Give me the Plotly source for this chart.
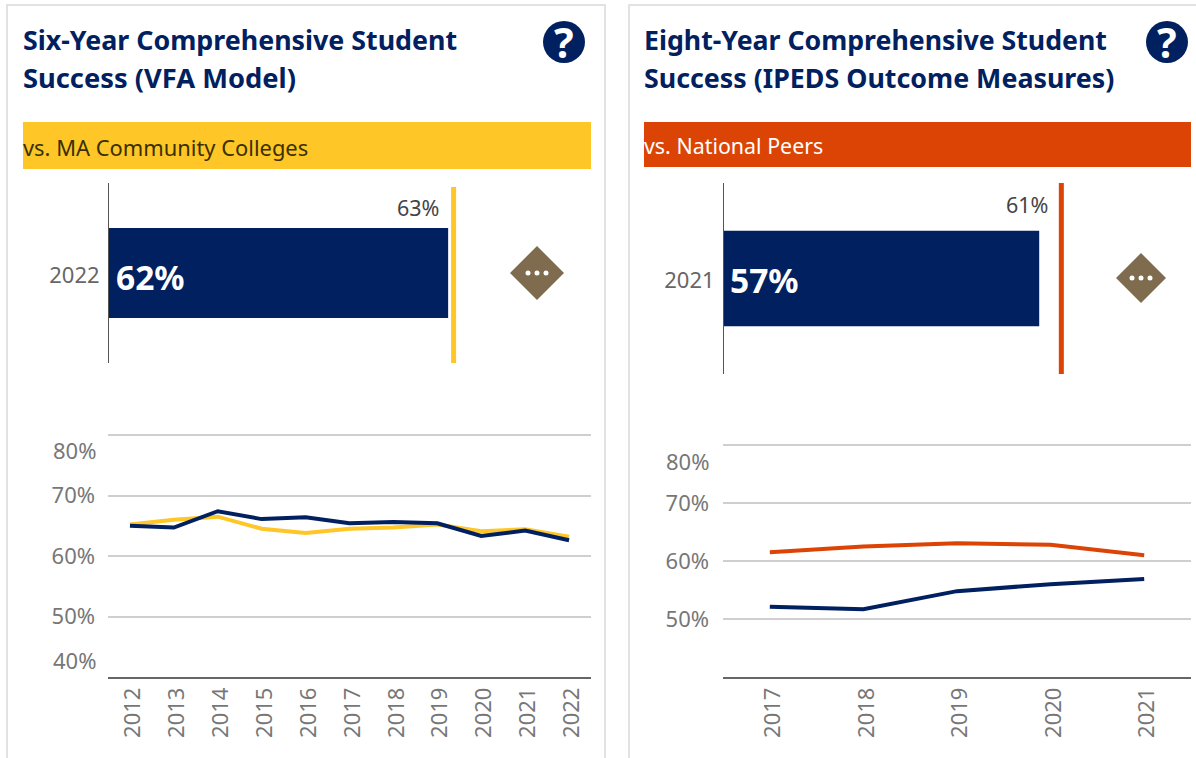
import plotly.graph_objects as go

W, H = 1196, 758
NAVY, GOLD, ORANGE, BROWN = "#002060", "#FFC627", "#DC4405", "#7F6C4E"
FONT = "Noto Sans"

years_a = ["2012","2013","2014","2015","2016","2017","2018","2019","2020","2021","2022"]
college_a = [65.0,64.7,67.4,66.1,66.4,65.4,65.6,65.4,63.3,64.2,62.6]
peers_a = [65.2,66.0,66.5,64.5,63.8,64.5,64.7,65.2,64.1,64.4,63.2]
years_b = ["2017","2018","2019","2020","2021"]
college_b = [52.1,51.7,54.8,56.0,56.9]
peers_b = [61.5,62.5,63.05,62.8,61.0]
bullet_a = {"year": "2022", "value": 62, "target": 63}
bullet_b = {"year": "2021", "value": 57, "target": 61}
grid_vals = [40, 50, 60, 70, 80]
grid_text = ["", "50%", "60%", "70%", ""]

def dx(a, b): return [a / W, b / W]
def dy(top, bot): return [1 - bot / H, 1 - top / H]
def px(x): return x / W
def py(y): return 1 - y / H

fig = go.Figure()

def panel(n, bullet, years, college, peers, color, xspan, scale, bar_y, line_y, target_top, y_standoff, cat_standoff):
    xa, ya = f"x{n}", f"y{n}"
    xb, yb = f"x{n+1}", f"y{n+1}"
    fig.add_trace(go.Bar(
        x=[bullet["value"]], y=[0], orientation="h", width=1.0, marker=dict(color=NAVY, line_width=0),
        xaxis=xa, yaxis=ya, showlegend=False, hoverinfo="skip"))
    fig.add_trace(go.Scatter(
        x=[bullet["target"]] * 2, y=[-1, target_top], mode="lines", line=dict(color=color, width=5),
        xaxis=xa, yaxis=ya, showlegend=False, hoverinfo="skip"))
    fig.add_trace(go.Scatter(x=years, y=peers, mode="lines", line=dict(color=color, width=4),
                             xaxis=xb, yaxis=yb, showlegend=False, hoverinfo="skip"))
    fig.add_trace(go.Scatter(x=years, y=college, mode="lines", line=dict(color=NAVY, width=4),
                             xaxis=xb, yaxis=yb, showlegend=False, hoverinfo="skip"))
    x0, x1 = xspan
    bw = 400
    top, bot = line_y
    fig.update_layout(**{
        f"xaxis{n}": dict(domain=dx(x0 + 1, x0 + 1 + bw), range=[0, bw / scale], visible=False, anchor=ya),
        f"yaxis{n}": dict(domain=dy(*bar_y), range=[-1, 1], anchor=xa, showgrid=False, zeroline=False,
                          showline=True, linecolor="#555555", linewidth=1, ticks="",
                          tickvals=[0], ticktext=[bullet["year"]], ticklabelstandoff=cat_standoff,
                          ticklabelshift=2, tickfont=dict(family=FONT, size=22, color="#666666")),
        f"xaxis{n+1}": dict(domain=dx(x0, x1), type="category", categoryorder="array", categoryarray=years,
                            range=[-0.5, len(years) - 0.5], anchor=yb, showgrid=False, tickangle=-90, ticks="",
                            showline=True, linecolor="#666666", linewidth=1.5, ticklabelstandoff=0,
                            ticklabelshift=3, tickfont=dict(family=FONT, size=22, color="#777777")),
        f"yaxis{n+1}": dict(domain=dy(top - 1.2, bot), range=[40, 80 + 1.2 * 40 / (bot - top)], anchor=xb,
                            zeroline=False, showline=False, tickvals=grid_vals, ticktext=grid_text,
                            gridcolor="#CFCFCF", gridwidth=1.5, ticks="", ticklabelstandoff=y_standoff,
                            tickfont=dict(family=FONT, size=22, color="#777777")),
    })

panel(1, bullet_a, years_a, college_a, peers_a, GOLD, (108, 591), 5.47, (183, 363), (435, 677), 0.955, 12, 4)
panel(3, bullet_b, years_b, college_b, peers_b, ORANGE, (723, 1191), 5.53, (183, 374), (445, 677), 1.0, 13, 4)

shapes, ann = [], []

def rect(x0, y0, x1, y1, fill=None, line=None, lw=1.5):
    shapes.append(dict(type="rect", xref="paper", yref="paper", x0=px(x0), x1=px(x1), y0=py(y1), y1=py(y0),
                       fillcolor=fill or "rgba(0,0,0,0)", line=dict(color=line or "rgba(0,0,0,0)", width=lw if line else 0),
                       layer="below"))

def text(x, y, s, size, color, anchor="left", bold=False):
    ann.append(dict(xref="paper", yref="paper", x=px(x), y=py(y), text=s, showarrow=False, xanchor=anchor,
                    yanchor="middle", font=dict(family=FONT, size=size, color=color,
                    weight="bold" if bold else "normal"), borderpad=0, borderwidth=0))

def diamond(cx, cy, r):
    shapes.append(dict(type="path", xref="paper", yref="paper", fillcolor=BROWN, line_width=0,
                       path=f"M{px(cx-r)},{py(cy)} L{px(cx)},{py(cy-r)} L{px(cx+r)},{py(cy)} L{px(cx)},{py(cy+r)} Z"))
    for d in (-9, 0, 9):
        shapes.append(dict(type="circle", xref="paper", yref="paper", fillcolor="white", line_width=0,
                           x0=px(cx+d-2.5), x1=px(cx+d+2.5), y0=py(cy+2.5), y1=py(cy-2.5)))

def help_icon(cx, cy, r):
    shapes.append(dict(type="circle", xref="paper", yref="paper", fillcolor=NAVY, line_width=0,
                       x0=px(cx-r), x1=px(cx+r), y0=py(cy+r), y1=py(cy-r)))
    text(cx, cy, "?", 41, "white", "center", True)

rect(7, 5, 605, 775, line="#D9D9D9")
rect(629, 5, 1215, 775, line="#D9D9D9")
rect(23, 122, 591, 169, fill=GOLD)
rect(644, 122, 1191, 167, fill=ORANGE)

text(23, 40, "Six-Year Comprehensive Student", 26.8, NAVY, bold=True)
text(23, 77, "Success (VFA Model)", 27.3, NAVY, bold=True)
text(644, 40, "Eight-Year Comprehensive Student", 26.7, NAVY, bold=True)
text(644, 77, "Success (IPEDS Outcome Measures)", 26.8, NAVY, bold=True)
text(23, 148, "vs. MA Community Colleges", 21.9, "#3A3000")
text(644, 146, "vs. National Peers", 21.4, "white")
text(116, 277, f'{bullet_a["value"]}%', 33.5, "white", bold=True)
text(730, 280, f'{bullet_b["value"]}%', 33.5, "white", bold=True)
text(439, 207, f'{bullet_a["target"]}%', 21.5, "#444444", "right")
text(1048, 204, f'{bullet_b["target"]}%', 21.5, "#444444", "right")
text(96, 450, "80%", 22, "#777777", "right")
text(96, 660, "40%", 22, "#777777", "right")
text(709, 461, "80%", 22, "#777777", "right")

help_icon(564, 42, 21)
help_icon(1167, 42, 21)
diamond(537, 273, 27)
diamond(1141, 278, 25)

fig.update_layout(width=W, height=H, margin=dict(l=0, r=0, t=0, b=0), paper_bgcolor="white",
                  plot_bgcolor="rgba(0,0,0,0)", shapes=shapes, annotations=ann, showlegend=False)
fig.write_html("out.html", post_script="document.body.style.margin='0';document.body.style.overflow='hidden';",
               config={"displayModeBar": False})
